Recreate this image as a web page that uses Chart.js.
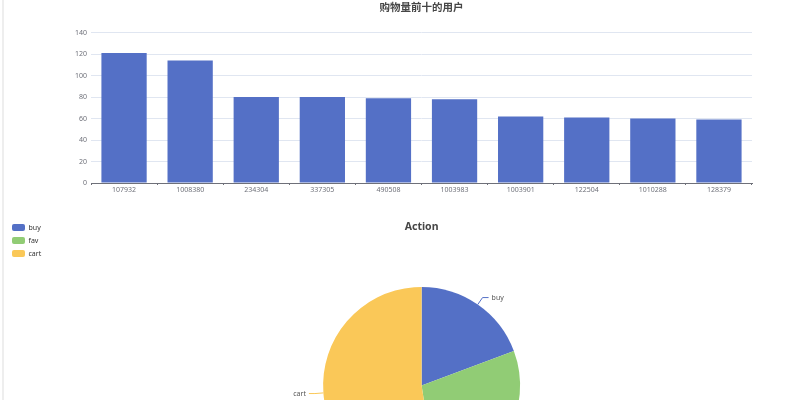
<!DOCTYPE html>
<html>
<head>
<meta charset="utf-8">
<script src="https://cdn.jsdelivr.net/npm/chart.js"></script>
<style>
  html, body { margin: 0; padding: 0; background: #fff; overflow: hidden; width: 789px; height: 400px; }
  #edge { position: absolute; left: 2px; top: 0; width: 2px; height: 400px; background: #eeeeee; }
  #bar { position: absolute; left: 0; top: 0; }
  #pie { position: absolute; left: 0; top: 200px; }
</style>
</head>
<body>
<div id="edge"></div>
<canvas id="bar" width="789" height="200"></canvas>
<canvas id="pie" width="800" height="400"></canvas>
<script>
// top ten users by number of purchases
const userIds = ['107932', '1008380', '234304', '337305', '490508', '1003983', '1003901', '122504', '1010288', '128379'];
const buyCounts = [121, 114, 80, 80, 79, 78, 62, 61, 60, 59];
const yTicks = [0, 20, 40, 60, 80, 100, 120, 140];

// share of actions (percent)
const actions = ['buy', 'fav', 'cart'];
const actionShare = [19.3, 28.3, 52.4];
const actionColors = ['#5470c6', '#91cc75', '#fac858'];

Chart.defaults.font.family = '"Noto Sans", "Noto Sans CJK SC", sans-serif';
Chart.defaults.animation = false;

new Chart(document.getElementById('bar'), {
  type: 'bar',
  data: {
    labels: userIds,
    datasets: [{ data: buyCounts, backgroundColor: '#5470c6', barPercentage: 0.685, categoryPercentage: 1 }]
  },
  options: {
    responsive: false,
    layout: { padding: { left: 0, right: 37, top: 0, bottom: 0 } },
    plugins: {
      legend: { display: false },
      tooltip: { enabled: false },
      title: {
        display: true, text: '购物量前十的用户', color: '#464646', fullSize: false,
        font: { size: 10.5, weight: 'bold', family: '"Noto Sans CJK SC", sans-serif' },
        padding: { top: 1, bottom: 19 }
      }
    },
    scales: {
      x: {
        grid: { drawOnChartArea: false, drawTicks: true, tickLength: 2, color: '#6E7079', offset: true },
        border: { color: '#6E7079' },
        ticks: { color: '#6E7079', font: { size: 7 }, padding: 1, maxRotation: 0, autoSkip: false },
        afterFit: s => { s.height = 17; }
      },
      y: {
        min: 0, max: 140,
        afterBuildTicks: s => { s.ticks = yTicks.map(v => ({ value: v })); },
        grid: { color: '#E0E6F1', drawTicks: false },
        border: { display: false },
        ticks: { color: '#6E7079', font: { size: 7 }, padding: 4 },
        afterFit: s => { s.width = 91; }
      }
    }
  }
});

// leader lines + names next to the slices
const pieLabels = {
  id: 'pieLabels',
  afterDatasetsDraw(chart) {
    const ctx = chart.ctx;
    const meta = chart.getDatasetMeta(0);
    ctx.save();
    ctx.font = '7px "Noto Sans", sans-serif';
    meta.data.forEach((arc, i) => {
      const p = arc.getProps(['x', 'y', 'startAngle', 'endAngle', 'outerRadius'], true);
      const a = (p.startAngle + p.endAngle) / 2;
      const c = Math.cos(a), s = Math.sin(a);
      const x0 = p.x + c * p.outerRadius, y0 = p.y + s * p.outerRadius;
      const x1 = p.x + c * (p.outerRadius + 8.5), y1 = p.y + s * (p.outerRadius + 8.5);
      const dir = c >= 0 ? 1 : -1;
      const x2 = x1 + dir * 6;
      ctx.strokeStyle = actionColors[i];
      ctx.lineWidth = 1;
      ctx.beginPath();
      ctx.moveTo(x0, y0);
      ctx.lineTo(x1, y1);
      ctx.lineTo(x2, y1);
      ctx.stroke();
      ctx.fillStyle = '#555';
      ctx.textBaseline = 'middle';
      ctx.textAlign = dir > 0 ? 'left' : 'right';
      ctx.fillText(chart.data.labels[i], x2 + dir * 3, y1);
    });
    ctx.restore();
  }
};

new Chart(document.getElementById('pie'), {
  type: 'pie',
  data: {
    labels: actions,
    datasets: [{ data: actionShare, backgroundColor: actionColors, borderWidth: 0 }]
  },
  options: {
    responsive: false,
    layout: { padding: { left: 6, top: 18, right: 8, bottom: 116 } },
    plugins: {
      tooltip: { enabled: false },
      title: {
        display: true, text: 'Action', fullSize: false, color: '#464646',
        font: { size: 10.5, weight: 'bold' },
        padding: { top: 3, bottom: 53.4 }
      },
      legend: {
        position: 'left', align: 'start',
        labels: {
          boxWidth: 13, boxHeight: 7, useBorderRadius: true, borderRadius: 2,
          padding: 6, color: '#333', font: { size: 7 }
        }
      }
    }
  },
  plugins: [pieLabels]
});
</script>
</body>
</html>
